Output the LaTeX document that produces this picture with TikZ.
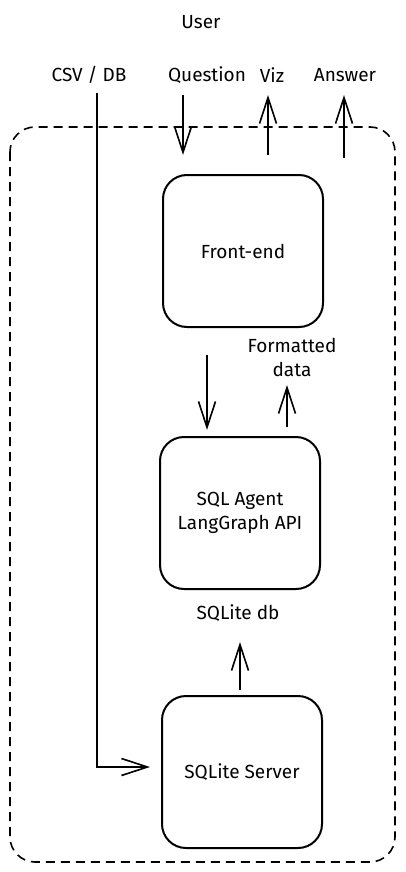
\documentclass[tikz,border=0pt]{standalone}
\usepackage{fontspec}
\setmainfont{Fira Sans}
\usetikzlibrary{arrows.meta}
\begin{document}
\begin{tikzpicture}[x=1pt,y=-1pt,
  lbl/.style={font=\fontsize{19}{24}\selectfont, align=center, inner sep=0pt},
  box/.style={draw, line width=2pt, rounded corners=24pt, minimum width=160pt, minimum height=152pt, font=\fontsize{19}{24}\selectfont, align=center},
  conn/.style={line width=2pt, -{Straight Barb[length=26pt,width=17pt,line width=1.6pt]}}
]
\useasboundingbox (0,0) rectangle (405,872);
\draw[line width=1.6pt, dash pattern=on 9pt off 6pt, rounded corners=25pt] (10,127) rectangle (395,862);

\node[lbl] (user) at (201,22) {User};
\node[lbl] (csv) at (89,75) {CSV / DB};
\node[lbl] (q) at (207,75) {Question};
\node[lbl] (viz) at (272,75) {Viz};
\node[lbl] (ans) at (345,75) {Answer};

\node[box] (fe) at (243,251) {Front-end};
\node[box] (agent) at (240,513) {SQL Agent\\LangGraph API};
\node[box] (srv) at (242,772) {SQLite Server};

\node[lbl] (fmt) at (292,357) {Formatted\\data};
\node[lbl] (db) at (238,613) {SQLite db};

\coordinate (csvtop) at (97,93);
\coordinate (csvcorner) at (97,767);
\draw[conn] (csvtop) -- (csvcorner) -- (150,767);

\coordinate (qa) at (183,95);
\coordinate (qb) at (183,155);
\draw[conn] (qa) -- (qb);
\coordinate (va) at (268,155);
\coordinate (vb) at (268,95);
\draw[conn] (va) -- (vb);
\coordinate (aa) at (344,158);
\coordinate (ab) at (344,95);
\draw[conn] (aa) -- (ab);

\coordinate (da) at (207,355);
\coordinate (db2) at (207,430);
\draw[conn] (da) -- (db2);
\coordinate (ua) at (287,427);
\coordinate (ub) at (287,385);
\draw[conn] (ua) -- (ub);
\coordinate (sa) at (240,690);
\coordinate (sb) at (240,642);
\draw[conn] (sa) -- (sb);
\end{tikzpicture}
\end{document}
